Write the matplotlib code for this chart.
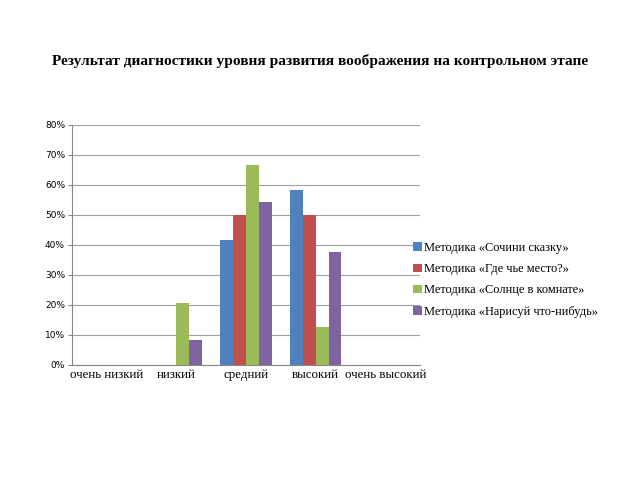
import numpy as np
import matplotlib.pyplot as plt
from matplotlib.ticker import PercentFormatter

categories = ['очень низкий', 'низкий', 'средний', 'высокий', 'очень высокий']
series_names = ['Методика «Сочини сказку»', 'Методика «Где чье место?»',
                'Методика «Солнце в комнате»', 'Методика «Нарисуй что-нибудь»']
skazka = [0, 0, 41.7, 58.3, 0]
mesto = [0, 0, 50.0, 50.0, 0]
solnce = [0, 20.8, 66.7, 12.5, 0]
narisuy = [0, 8.3, 54.2, 37.5, 0]
colors = ['#4F81BD', '#C0504D', '#9BBB59', '#8064A2']

fig = plt.figure(figsize=(6.4, 4.8), dpi=100)
ax = fig.add_axes([0.1125, 0.2396, 0.544, 0.5])

x = np.arange(len(categories))
w = 0.185
for i, (vals, name) in enumerate(zip([skazka, mesto, solnce, narisuy], series_names)):
  ax.bar(x + (i - 1.5)*w, vals, w, color=colors[i], label=name, zorder=3)
#end

ax.set_xlim(-0.5, len(categories) - 0.5)
ax.set_ylim(0, 80)
ax.set_yticks(np.arange(0, 81, 10))
ax.yaxis.set_major_formatter(PercentFormatter(decimals=0))
ax.set_xticks(x)
ax.set_xticklabels(categories, family='Liberation Serif', fontsize=9.3)
ax.tick_params(axis='x', length=0, pad=3)
ax.tick_params(axis='y', labelsize=6.5, length=3, color='#888888', pad=2)
ax.grid(axis='y', color='#a0a0a0', linewidth=0.8, zorder=0)
for s in ['top', 'right']:
  ax.spines[s].set_visible(False)
for s in ['left', 'bottom']:
  ax.spines[s].set_color('#888888')

fig.text(0.5, 0.873, 'Результат диагностики уровня развития воображения на контрольном этапе',
         ha='center', va='center', family='Liberation Serif', fontweight='bold', fontsize=11.1)

fig.legend(loc='center left', bbox_to_anchor=(0.638, 0.417), frameon=False,
           prop={'family': 'Liberation Serif', 'size': 8.9}, handlelength=0.7,
           handleheight=0.7, handletextpad=0.2, labelspacing=0.75, borderaxespad=0)

fig.savefig('out.png', dpi=100)
